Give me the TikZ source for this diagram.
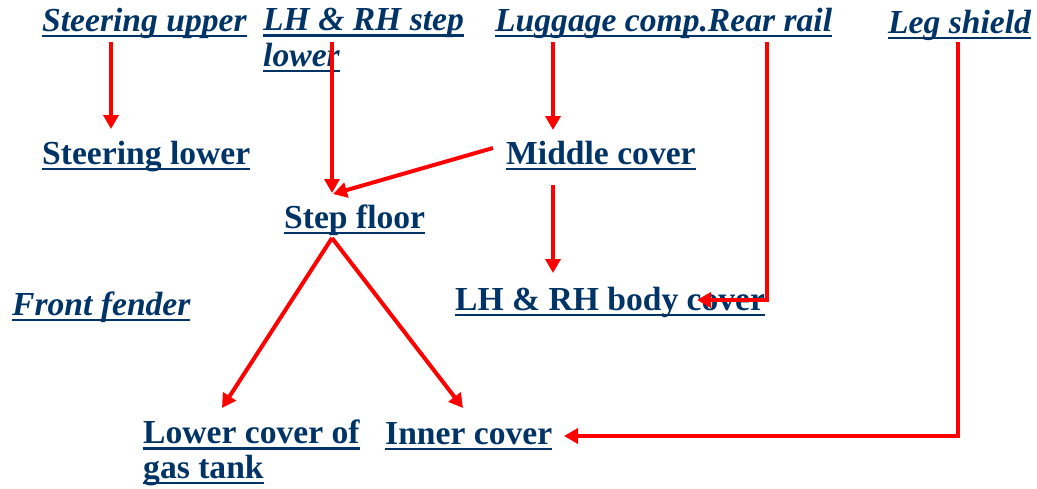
\documentclass[tikz,border=0pt]{standalone}
\usepackage{fontspec}
\setmainfont{Liberation Serif}
\usetikzlibrary{arrows.meta}

\definecolor{partblue}{RGB}{0,51,102}
\definecolor{linkred}{RGB}{255,0,0}

% underlined label, line sits at a fixed depth below the baseline
\newcommand\partlbl[1]{\setbox0=\hbox{#1}\rlap{\color{partblue}\rule[-6pt]{\wd0}{2.3pt}}\box0}

\tikzset{
    part/.style = {anchor = base west, inner sep = 0pt, text = partblue, align = left,
                   font = \fontsize{33.6}{34.5}\selectfont\bfseries},
    sub/.style = {part, font = \fontsize{33.6}{35.5}\selectfont\bfseries\itshape},
    link/.style = {draw = linkred, line width = 4pt,
                   -{Triangle[width = 15pt, length = 14pt]}},
}

\begin{document}
\begin{tikzpicture}[x = 1pt, y = -1pt]
        \useasboundingbox (0,0) rectangle (1037,488);

        \node (su) at (42,31) [sub] {\partlbl{Steering upper}};
        \node (sr) at (263,66) [sub] {\partlbl{LH \& RH step}\\\partlbl{lower}};
        \node (lu) at (495,31) [sub] {\partlbl{Luggage comp.Rear rail}};
        \node (ls) at (888,33) [sub] {\partlbl{Leg shield}};

        \node (sl) at (42,164) [part] {\partlbl{Steering lower}};
        \node (mc) at (506,164) [part] {\partlbl{Middle cover}};
        \node (sf) at (284,228) [part] {\partlbl{Step floor}};
        \node (ff) at (12,315) [sub] {\partlbl{Front fender}};
        \node (bc) at (455,310) [part] {\partlbl{LH \& RH body cover}};
        \node (lc) at (143,478) [part] {\partlbl{Lower cover of}\\\partlbl{gas tank}};
        \node (ic) at (385,444) [part] {\partlbl{Inner cover}};

        \draw [link] ([xshift = 69pt, yshift = -11pt]su.base west) -- ([xshift = 69pt, yshift = 35pt]sl.base west);
        \draw [link] ([xshift = 69pt, yshift = 24pt]sr.base west) -- ([xshift = 48pt, yshift = 35pt]sf.base west);
        \draw [link] ([xshift = -13pt, yshift = 16pt]mc.base west) -- ([xshift = 49pt, yshift = 34pt]sf.base west);
        \draw [link] ([xshift = 58pt, yshift = -11pt]lu.base west) -- ([xshift = 47pt, yshift = 34pt]mc.base west);
        \draw [link] ([xshift = 47pt, yshift = -21pt]mc.base west) -- ([xshift = 98pt, yshift = 37pt]bc.base west);

        \draw [link] ([xshift = 272pt, yshift = -11pt]lu.base west) |- ([xshift = 242pt, yshift = 10pt]bc.base west);
        \draw [link] ([xshift = 70pt, yshift = -9pt]ls.base west) |- ([xshift = 179pt, yshift = 8pt]ic.base west);

        \draw [link] ([xshift = 48pt, yshift = -10pt]sf.base west) -- ([xshift = 79pt, yshift = 70pt]lc.base west);
        \draw [link] ([xshift = 48pt, yshift = -10pt]sf.base west) -- ([xshift = 78pt, yshift = 36pt]ic.base west);

    \end{tikzpicture}
\end{document}
